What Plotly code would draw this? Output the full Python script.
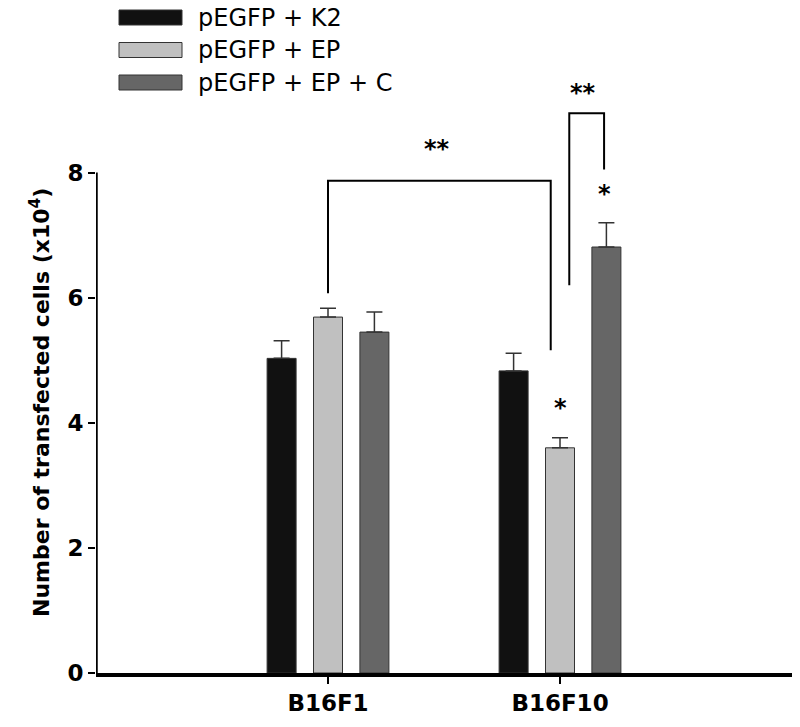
import plotly.graph_objects as go

# data
cells = ["B16F1", "B16F10"]
series = ["pEGFP + K2", "pEGFP + EP", "pEGFP + EP + C"]
means_k2 = [5.03, 4.83]
means_ep = [5.69, 3.60]
means_epc = [5.45, 6.81]
sem_k2 = [0.28, 0.28]
sem_ep = [0.14, 0.16]
sem_epc = [0.32, 0.39]
colors = ["#111111", "#c0c0c0", "#666666"]

# significance brackets (x in category units, y in data units)
bracket1_x = [0.0, 0.0, 0.96, 0.96]
bracket1_y = [6.07, 7.87, 7.87, 5.16]
bracket2_x = [1.04, 1.04, 1.19, 1.19]
bracket2_y = [6.20, 8.95, 8.95, 8.05]
star_x = [0.47, 1.10, 1.0, 1.19]
star_y = [8.44, 9.34, 4.30, 7.72]
star_txt = ["**", "**", "*", "*"]

FONT = "DejaVu Sans, Liberation Sans, Arial, sans-serif"
L, R, T, B = 96, 8, 0, 54
W, H = 800, 727
PW, PH = W - L - R, H - T - B


def px(x):
    # page pixel -> paper x
    return (x - L) / PW


def py(y):
    # page pixel -> paper y
    return (H - B - y) / PH


fig = go.Figure()
for name, m, e, c in zip(series, [means_k2, means_ep, means_epc],
                         [sem_k2, sem_ep, sem_epc], colors):
    fig.add_trace(go.Bar(
        x=cells, y=m, name=name, marker_color=c,
        marker_line=dict(color="#333333", width=1),
        error_y=dict(type="data", array=e, arrayminus=[0] * len(e),
                     symmetric=False, color="#333333", thickness=1.5, width=8),
        showlegend=False,
    ))

for bx, by in [(bracket1_x, bracket1_y), (bracket2_x, bracket2_y)]:
    path = "M " + " L ".join(f"{a},{b}" for a, b in zip(bx, by))
    fig.add_shape(type="path", path=path, xref="x", yref="y",
                  line=dict(color="black", width=2))

for sx, sy, st in zip(star_x, star_y, star_txt):
    fig.add_annotation(x=sx, y=sy, text=st, showarrow=False, xref="x", yref="y",
                       font=dict(family=FONT, size=24, color="black", weight="bold"),
                       yshift=-4)

# y axis line only up to 8
fig.add_shape(type="line", xref="x", yref="y", x0=-1, x1=-1, y0=0, y1=8,
              line=dict(color="black", width=3.5))

# legend drawn by hand (long swatches)
for i, (name, c) in enumerate(zip(series, colors)):
    top = 10 + 32.5 * i
    fig.add_shape(type="rect", xref="paper", yref="paper",
                  x0=px(119), x1=px(182), y0=py(top + 15), y1=py(top),
                  fillcolor=c, line=dict(color="#333333", width=1))
    fig.add_annotation(x=px(196), y=py(top + 7.5), xref="paper", yref="paper",
                       text=name, showarrow=False, xanchor="left", yanchor="middle",
                       font=dict(family=FONT, size=24, color="black"))

fig.add_annotation(x=px(24), y=py(403), xref="paper", yref="paper",
                   text="Number of transfected cells (x10<sup>4</sup>)",
                   textangle=-90, showarrow=False,
                   font=dict(family=FONT, size=22, color="black", weight="bold"))

fig.update_layout(
    width=W, height=H,
    margin=dict(l=L, r=R, t=T, b=B),
    plot_bgcolor="white", paper_bgcolor="white",
    barmode="group", bargap=0.4, bargroupgap=0.375,
    font=dict(family=FONT, color="black"),
    xaxis=dict(range=[-1, 2], showline=True, linecolor="black", linewidth=3.5,
               ticks="outside", ticklen=7, tickwidth=1.5, tickcolor="black",
               showgrid=False, zeroline=False,
               tickfont=dict(family=FONT, size=23, weight="bold")),
    yaxis=dict(range=[0, PH / 62.55], tickvals=[0, 2, 4, 6, 8], ticks="outside",
               ticklen=7, tickwidth=1.5, tickcolor="black",
               showline=False, showgrid=False, zeroline=False,
               tickfont=dict(family=FONT, size=23, weight="bold")),
)

# drop the default page margin so the figure sits at the window's corner
fig.write_html("out.html", config={"displayModeBar": False},
               post_script="document.body.style.margin = '0';")
